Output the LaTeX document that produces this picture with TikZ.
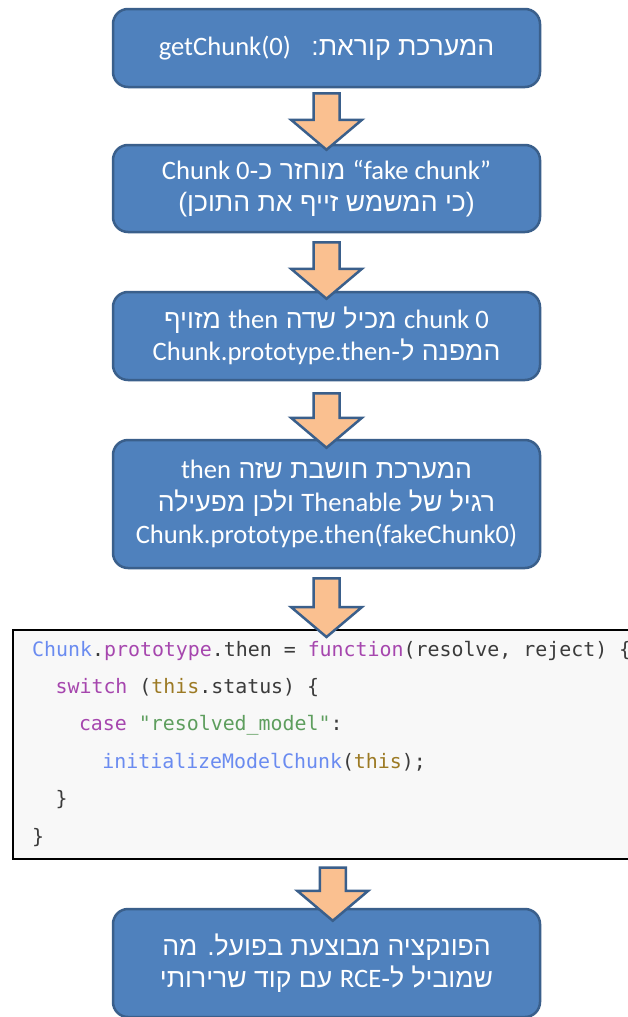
\documentclass[tikz,border=0pt]{standalone}
\usepackage{fontspec}
\setmainfont{Carlito}
\newfontfamily\carl{Carlito}
\newfontfamily\heb[Script=Hebrew]{Liberation Sans}
\newfontfamily\codefont[Ligatures=TeXOff]{DejaVu Sans Mono}
\TeXXeTstate=1
\usetikzlibrary{calc}
\definecolor{boxfill}{HTML}{4F81BD}
\definecolor{boxline}{HTML}{3A5F8B}
\definecolor{arrfill}{HTML}{FAC090}
\definecolor{arrline}{HTML}{3A5F8B}
\definecolor{codebg}{HTML}{F8F8F8}
\definecolor{cdark}{HTML}{3B3B3B}
\definecolor{cblue}{HTML}{6A8BF0}
\definecolor{cpurple}{HTML}{A646AE}
\definecolor{cgold}{HTML}{9C7A24}
\definecolor{cgreen}{HTML}{5E9E5E}
\newcommand\lt[1]{\beginL{\carl #1}\endL}
\newcommand\hb[1]{{\heb\beginR #1\endR}}
\newcommand\flowarrow[2]{%
  \draw[blockarrow] let \p1=(#1), \p2=(#2) in
    (\x1-13pt,\y1) -- (\x1+13pt,\y1) -- (\x1+13pt,\y2+30pt) -- (\x1+35.5pt,\y2+30pt)
    -- (\x1,\y2) -- (\x1-35.5pt,\y2+30pt) -- (\x1-13pt,\y2+30pt) -- cycle;}
\tikzset{
  flowbox/.style={draw=boxline, fill=boxfill, line width=2.5pt, rounded corners=15pt,
    minimum width=427pt, text=white, align=center, inner sep=0pt,
    font=\fontsize{26.6}{32.3}\selectfont},
  blockarrow/.style={draw=arrline, fill=arrfill, line width=2.5pt, line join=miter},
  codeline/.style={anchor=base west, inner sep=0pt, text=cdark,
    font=\codefont\fontsize{19.9}{23}\selectfont},
}
\begin{document}
\begin{tikzpicture}[x=1pt, y=-1pt]
\useasboundingbox[fill=white] (0,0) rectangle (628,1017);

\node[flowbox, minimum height=78pt] (b1) at (326.5,48)
  {\hb{המערכת קוראת:\hspace{0.4em} \lt{getChunk(0)}}};
\node[flowbox, minimum height=87pt] (b2) at (326.5,188.5)
  {\hb{\lt{“fake chunk”} מוחזר כ-\lt{Chunk 0}}\\ \hb{(כי המשמש זייף את התוכן)}};
\node[flowbox, minimum height=88pt] (b3) at (326.5,336)
  {\hb{\lt{chunk 0} מכיל שדה \lt{then} מזויף}\\ \hb{המפנה ל-\lt{Chunk.prototype.then}}};
\node[flowbox, minimum height=128pt] (b4) at (326.5,504)
  {\hb{המערכת חושבת שזה \lt{then}}\\ \hb{רגיל של \lt{Thenable} ולכן מפעילה}\\ Chunk.prototype.then(fakeChunk0)};

\node[draw=black, fill=codebg, line width=1.5pt, minimum width=640pt, minimum height=229pt,
  anchor=north west, inner sep=0pt] (code) at (12,629) {};
\node[codeline] (c1) at (32,656) {\textcolor{cblue}{Chunk}.\textcolor{cpurple}{prototype}.then = \textcolor{cpurple}{function}(resolve, reject) \{};
\node[codeline] (c2) at (55.4,693.4) {\textcolor{cpurple}{switch} (\textcolor{cgold}{this}.status) \{};
\node[codeline] (c3) at (78.8,730.8) {\textcolor{cpurple}{case} \textcolor{cgreen}{"resolved\_model"}:};
\node[codeline] (c4) at (102.2,768.2) {\textcolor{cblue}{initializeModelChunk}(\textcolor{cgold}{this});};
\node[codeline] (c5) at (55.4,805.6) {\}};
\node[codeline] (c6) at (32,843) {\}};

\node[flowbox, minimum height=108pt] (b6) at (326.5,963)
  {\hb{הפונקציה מבוצעת בפועל. מה}\\ \hb{שמוביל ל-\lt{RCE} עם קוד שרירותי}};

\coordinate (a1s) at ($(b1.south)+(0,5)$);
\coordinate (a1t) at ($(b2.north)+(0,6)$);
\coordinate (a2s) at ($(b2.south)+(0,9)$);
\coordinate (a2t) at ($(b3.north)+(0,8)$);
\coordinate (a3s) at ($(b3.south)+(0,12)$);
\coordinate (a3t) at ($(b4.north)+(0,9)$);
\coordinate (a4s) at ($(b4.south)+(0,9)$);
\coordinate (a4t) at ($(code.north)+(0,8)$);
\coordinate (a5s) at ($(code.south)+(0,8)$);
\coordinate (a5t) at ($(b6.north)+(0,13)$);
\flowarrow{a1s}{a1t}
\flowarrow{a2s}{a2t}
\flowarrow{a3s}{a3t}
\flowarrow{a4s}{a4t}
\flowarrow{a5s}{a5t}
\end{tikzpicture}
\end{document}
